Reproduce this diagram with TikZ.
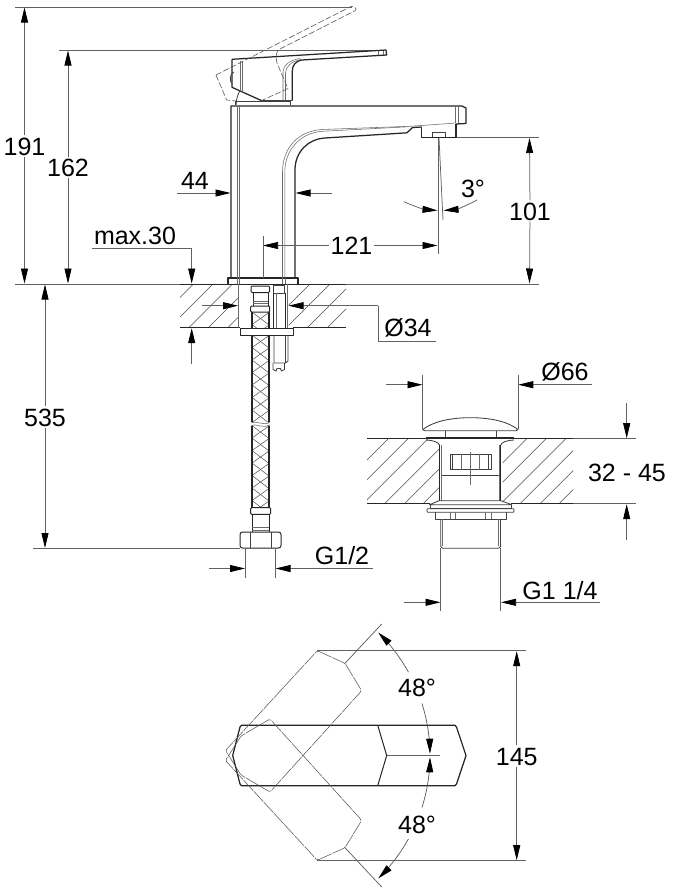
\documentclass[tikz,border=0pt]{standalone}
\usepackage{fontspec}
\setmainfont{Liberation Sans}
\usetikzlibrary{arrows.meta}
\definecolor{dimc}{gray}{0.38}
\definecolor{thinc}{gray}{0.42}
\tikzset{
  dimtext/.style={font=\fontsize{25}{25}\selectfont,text=black,text height=18pt,text depth=0pt,inner sep=1.5pt},
  dimline/.style={draw=dimc,line width=0.75pt},
  dimarrow/.style={dimline,-{Stealth[black,length=15pt,width=7pt,inset=0pt]}},
  solid body/.style={draw=black!85,line width=1.25pt,line join=round},
  med/.style={draw=black!75,line width=0.85pt,line join=round},
  thin gray/.style={draw=thinc,line width=0.55pt},
  ghost/.style={draw=black!65,line width=0.6pt,dash pattern=on 6pt off 2.2pt},
  hatchline/.style={draw=black!70,line width=0.55pt},
  braid/.style={draw=black!65,line width=0.55pt},
}
\newcommand{\hosebraid}[2]{%
  \begin{scope}
    \clip (252,#1) rectangle (269,#2);
    \foreach \k in {-1,...,16}{
      \draw[braid] (252,{#1+12.5*\k}) -- (269,{#1+13+12.5*\k});
      \draw[braid] (260.5,{#1+6.5+12.5*\k}) -- (252,{#1+12.5+12.5*\k});
      \draw[braid] (269,{#1+13+12.5*\k}) -- (260.5,{#1+19+12.5*\k});
    }
  \end{scope}
  \draw[solid body] (252,#1) -- (252,#2) (269,#1) -- (269,#2);
}
\begin{document}
\begin{tikzpicture}[x=1pt,y=-1pt]
\useasboundingbox (0,0) rectangle (672,894);
\fill[white] (0,0) rectangle (672,894);

%% --- reference lines
\draw[dimline] (15,7) -- (352,7);
\draw[dimline] (59,50) -- (382,50);
\draw[dimline] (15,284) -- (228,284);
\draw[dimline] (346,284) -- (539,284);
\draw[dimline] (456,137.5) -- (539,137.5);

%% --- lever, solid
\draw[solid body] (232,59.3) -- (386,50) -- (386.7,55) -- (301.7,60)
   .. controls (296,61) and (292.3,65) .. (292.3,71) -- (292.3,100.5);
\draw[solid body] (232,59.3) -- (232,87.3) -- (261.7,100.7);
\draw[med] (261.7,100.7) -- (292.3,100.7);
\draw[med] (234,72) .. controls (229.5,73) and (229.5,82) .. (232,83.5);
\draw[med] (236,105) .. controls (236.5,98) and (238,94) .. (240,90.5);
\draw[thin gray] (240,61) -- (240,90) (242.7,61) -- (242.7,92);
\draw[thin gray] (283,100.5) -- (283,72) .. controls (283,66) and (289,60) .. (300,58.5);
\draw[thin gray] (285.5,100.5) -- (285.5,73) .. controls (285.5,67) and (291,61.5) .. (301,59.5);
\draw[thin gray] (378,50.5) -- (378,54.5) (383,50.5) -- (383,54.5);
\draw[med] (235,105) -- (235,101.7) -- (290,101.7) -- (290,105);

%% --- lever, raised (dashed)
\draw[ghost] (216,75) -- (351,6.5) .. controls (355,6) and (357,9) .. (355.5,10.5)
   -- (278,50) .. controls (276,54) and (275.5,58) .. (277,63) -- (288,88.5) -- (261.7,100.5)
   (216,75) -- (226.7,100) -- (236,101);

%% --- body and spout
\draw[solid body] (231,278) -- (231,106) -- (462,106) -- (466,108) -- (466,123.5) -- (456,124);
\draw[solid body] (228,284) -- (228,278) -- (298,278) -- (298,284);
\draw[solid body] (295,278) -- (295,170) .. controls (295,152) and (308,139) .. (325,138)
   -- (407,132.8) -- (412.5,127.5) -- (421.5,127);
\draw[solid body] (421.7,127) -- (421.7,137.7) -- (456,137.7) -- (456,124);
\draw[med] (432,137) -- (432,132) -- (445,132) -- (445,137);
\draw[thin gray] (282.5,278) -- (282.5,172) .. controls (282.5,148) and (298,131) .. (322,129.5) -- (412,126.2) -- (456,123);
\draw[thin gray] (284.8,278) -- (284.8,172) .. controls (284.8,150) and (300,133) .. (322,131.3) -- (408,126.8);
\draw[thin gray] (237,106) -- (237,278) (239.5,106) -- (239.5,278);
\draw[thin gray] (455,106) -- (455,123) (458,106) -- (458,123);
\draw[thin gray] (237,278) -- (237,284) (239.5,278) -- (239.5,284) (282.5,278) -- (282.5,284) (284.8,278) -- (284.8,284);

%% --- counter top (faucet)
\begin{scope}
  \clip (180,284) rectangle (238,327.7);
  \foreach \c in {193.5,213,232.5,252,271.5}{\draw[hatchline] ({\c},284) -- ({\c-44},328);}
\end{scope}
\begin{scope}
  \clip (288.5,284) rectangle (346,327.7);
  \foreach \c in {310,330,351,371}{\draw[hatchline] ({\c},284) -- ({\c-44},328);}
\end{scope}
\draw[solid body,line width=1pt] (180,284) -- (228,284) (298,284) -- (346,284);
\draw[solid body,line width=1pt] (228,284) -- (298,284);
\draw[solid body,line width=1pt] (180,327.7) -- (240,327.7) (293,327.7) -- (346,327.7);
\draw[thin gray,line width=0.7pt] (238.3,284) -- (238.3,327.7) (287.5,284) -- (287.5,327.7);

%% --- hose and connector
\draw[solid body,line width=1pt,rounded corners=1pt] (251,286) rectangle (269.5,292.5);
\draw[solid body,line width=1pt] (253,292.5) -- (253,306) (268,292.5) -- (268,306);
\draw[thin gray] (253,301) -- (268,301) (253,303) -- (268,303);
\draw[solid body,line width=1pt,rounded corners=1pt] (250.7,306) rectangle (269.7,312);
\hosebraid{312}{328}
\draw[solid body,line width=1pt] (240,328) rectangle (293,335);
\hosebraid{335}{422}
\draw[thin gray] (251,423) .. controls (256,420) and (262,426) .. (270,422.5)
   (251,425.5) .. controls (256,423) and (262,429) .. (270,425);
\hosebraid{425.5}{507.7}
\draw[solid body,line width=1pt,rounded corners=1pt] (250.7,507.7) rectangle (270.7,514.3);
\draw[solid body,line width=1pt] (252,514.3) -- (252,532) (269,514.3) -- (269,532);
\draw[thin gray] (252,527.5) -- (269,527.5) (252,530) -- (269,530);
\draw[solid body,line width=1pt,rounded corners=2.5pt] (240,532) rectangle (281,548);
\draw[med] (250,532) -- (250,548) (271,532) -- (271,548);

%% --- stud
\draw[med] (273,293.3) -- (273,285) -- (284,285) -- (284,293.3) -- cycle;
\draw[solid body,line width=1pt] (273,293.3) -- (273,327.7) (285,293.3) -- (285,327.7);
\draw[thin gray] (276,293.3) -- (276,327.7);
\draw[solid body,line width=1pt] (269.3,335) -- (269.3,363);
\draw[med] (274,335) -- (274,363) -- (285.5,363) -- (285.5,335) (288,335) -- (288,361) -- (285.5,363);
\draw[med] (273,363) -- (273,369.5) -- (276,371) -- (277,368.5) -- (280.5,368.5) -- (281.5,371) -- (284.5,369.5) -- (284.5,363);

%% --- waste: counter
\begin{scope}
  \clip (367,438.7) rectangle (439,503.7);
  \foreach \c in {388.3,408,428,449.6,469.6,488}{\draw[hatchline] ({\c},438.7) -- ({\c-65},503.7);}
\end{scope}
\begin{scope}
  \clip (502.7,438.7) rectangle (573,503.7);
  \foreach \c in {526.7,546,565.7,585,605,624}{\draw[hatchline] ({\c},438.7) -- ({\c-65},503.7);}
\end{scope}
\draw[solid body,line width=1pt] (367,438.7) -- (426,438.7) (514,438.7) -- (573,438.7)
   (367,503.7) -- (430,503.7) (511,503.7) -- (573,503.7);
\draw[dimline] (573,438.7) -- (636,438.7) (573,503.7) -- (636,503.7);

%% --- waste: plug
\draw[med] (422.7,429.7) .. controls (435,420) and (455,417.7) .. (470.5,417.7)
   .. controls (486,417.7) and (506,420) .. (518,429.7) -- (516,430.7) -- (425,430.7) -- cycle;
\draw[med] (445,431) -- (445,437.5) (496,431) -- (496,437.5);
\draw[solid body,line width=1.6pt] (426,438) -- (514,438);
\draw[med] (426,440) .. controls (434,440.5) and (438,442) .. (439.5,445)
   (514,440) .. controls (506,440.5) and (502,442) .. (500.8,445);
\draw[solid body,line width=1pt] (439.5,445) -- (439.5,501) (500.8,445) -- (500.8,501);
\draw[thin gray] (441.5,445) -- (441.5,501) (499,445) -- (499,501);
\draw[med] (441.5,475) -- (499,475);
\draw[med] (450,454) rectangle (491,469.5);
\draw[med] (452.7,454) -- (452.7,469.5) (488,454) -- (488,469.5);
\draw[thin gray] (461.7,454) -- (461.7,469.5) (479,454) -- (479,469.5);
\draw[thin gray] (470.5,452) -- (470.5,485);
\draw[med] (439,500.7) -- (501,500.7) -- (511.7,504.7) -- (429.5,504.7) -- cycle;
\draw[med] (430,504.7) -- (430,508.7) -- (511.7,508.7) -- (511.7,504.7);
\draw[med,rounded corners=0.8pt] (427,508.7) rectangle (514,512.3);
\draw[med] (435.7,512.3) -- (435.7,519) -- (506,519) -- (506,512.3);
\draw[thin gray] (450,512.3) -- (450,519) (455.7,512.3) -- (455.7,519) (485,512.3) -- (485,519) (491,512.3) -- (491,519);
\draw[med] (440.7,519) -- (440.7,546.5) -- (442.5,548.3) -- (498.5,548.3) -- (500.5,546.5) -- (500.5,519);
\draw[thin gray] (442.5,519) -- (442.5,546) (498.7,519) -- (498.7,546);

%% --- top view
\draw[solid body] (232.7,755.5) -- (240,727) -- (241.5,725.3) -- (455,725.3) -- (456.5,727) -- (466,755.5)
   -- (456.5,784) -- (455,785.7) -- (241.5,785.7) -- (240,784) -- cycle;
\draw[solid body,line width=1pt] (377.7,725.3) -- (386.7,755.5) -- (377.7,785.7);
\draw[ghost,line width=0.55pt,dash pattern=on 14pt off 1pt,rounded corners=1.5pt]
  (317.3,650.7) -- (345,663.3) -- (361.7,690.7) -- (270,792) -- (241,775) -- (225.5,750.5) -- cycle;
\draw[ghost,line width=0.55pt,dash pattern=on 14pt off 1pt,rounded corners=1.5pt]
  (317.3,860.3) -- (345,847.7) -- (361.7,820.3) -- (270,719) -- (241,736) -- (225.5,760.5) -- cycle;

%% --- dimensions: 191, 162, 535
\node[dimtext] (d191) at (24.5,146) {191};
\coordinate (d191a) at (24.5,7.5); \coordinate (d191b) at (24.5,283.5);
\draw[dimarrow] (d191) -- (d191a); \draw[dimarrow] (d191) -- (d191b);
\node[dimtext] (d162) at (68,167.5) {162};
\coordinate (d162a) at (68,50.5); \coordinate (d162b) at (68,283.5);
\draw[dimarrow] (d162) -- (d162a); \draw[dimarrow] (d162) -- (d162b);
\node[dimtext] (d535) at (45,417) {535};
\coordinate (d535a) at (45,284.5); \coordinate (d535b) at (45,548);
\draw[dimarrow] (d535) -- (d535a); \draw[dimarrow] (d535) -- (d535b);
\draw[dimline] (33,548) -- (240,548);

%% --- 44
\node[dimtext] (d44) at (195,180) {44};
\coordinate (d44a) at (177,193); \coordinate (d44b) at (230.5,193);
\coordinate (d44c) at (331.5,193); \coordinate (d44d) at (295.5,193);
\draw[dimarrow] (d44a) -- (d44b); \draw[dimarrow] (d44c) -- (d44d);

%% --- max.30
\node[dimtext] (dmax) at (135,235) {max.30};
\coordinate (dmaxa) at (92,248); \coordinate (dmaxb) at (191.7,248); \coordinate (dmaxc) at (191.7,283.5);
\draw[dimline] (dmaxa) -- (dmaxb);
\draw[dimarrow] (dmaxb) -- (dmaxc);
\coordinate (dmaxd) at (191.7,364); \coordinate (dmaxe) at (191.7,328.2);
\draw[dimarrow] (dmaxd) -- (dmaxe);

%% --- 121
\node[dimtext] (d121) at (351.5,245.5) {121};
\coordinate (d121a) at (263,245.5); \coordinate (d121b) at (437.5,245.5);
\draw[dimarrow] (d121) -- (d121a); \draw[dimarrow] (d121) -- (d121b);
\draw[dimline] (263,236) -- (263,278);
\draw[dimline] (438.7,138) -- (438.7,254);
\draw[dimline] (439,138) -- (443,220);

%% --- 3 deg
\node[dimtext] (d3) at (473,188) {3°};
\coordinate (d3a) at (404,201.7); \coordinate (d3b) at (437.5,210.5);
\coordinate (d3c) at (477,200); \coordinate (d3d) at (443.5,210.5);
\draw[dimarrow] (d3a) .. controls (413,206) and (425,209.5) .. (d3b);
\draw[dimarrow] (d3c) .. controls (468,205) and (456,209.5) .. (d3d);

%% --- 101
\node[dimtext] (d101) at (530,211) {101};
\coordinate (d101a) at (529.5,138); \coordinate (d101b) at (529.5,283.5);
\draw[dimarrow] (d101) -- (d101a); \draw[dimarrow] (d101) -- (d101b);

%% --- O34
\node[dimtext] (d34) at (408,327.5) {Ø34};
\coordinate (d34a) at (202,305.7); \coordinate (d34b) at (238,305.7);
\coordinate (d34c) at (378,305.7); \coordinate (d34d) at (288.5,305.7);
\draw[dimarrow] (d34a) -- (d34b);
\draw[dimarrow] (d34c) -- (d34d);
\draw[dimline] (d34c) -- (378,341) -- (436,341);

%% --- G1/2
\node[dimtext] (dg12) at (342,555.5) {G1/2};
\coordinate (dg12a) at (209,568.5); \coordinate (dg12b) at (245,568.5);
\coordinate (dg12c) at (373,568.5); \coordinate (dg12d) at (275.5,568.5);
\draw[dimarrow] (dg12a) -- (dg12b); \draw[dimarrow] (dg12c) -- (dg12d);
\draw[dimline] (245,548) -- (245,577.5) (275.5,548) -- (275.5,577.5);

%% --- O66
\node[dimtext] (d66) at (565,371) {Ø66};
\coordinate (d66a) at (386,384.7); \coordinate (d66b) at (422.5,384.7);
\coordinate (d66c) at (592,384.7); \coordinate (d66d) at (518.3,384.7);
\draw[dimarrow] (d66a) -- (d66b); \draw[dimarrow] (d66c) -- (d66d);
\draw[dimline] (422.7,375) -- (422.7,429) (518,375) -- (518,429);

%% --- 32 - 45
\node[dimtext] (d3245) at (627,472) {32 - 45};
\coordinate (d32a) at (626.7,403); \coordinate (d32b) at (626.7,438.2);
\coordinate (d32c) at (626.7,540); \coordinate (d32d) at (626.7,504.2);
\draw[dimarrow] (d32a) -- (d32b); \draw[dimarrow] (d32c) -- (d32d);

%% --- G1 1/4
\node[dimtext] (dg114) at (560,590) {G1 1/4};
\coordinate (dg1a) at (404,602.3); \coordinate (dg1b) at (440.5,602.3);
\coordinate (dg1c) at (600,602.3); \coordinate (dg1d) at (501,602.3);
\draw[dimarrow] (dg1a) -- (dg1b); \draw[dimarrow] (dg1c) -- (dg1d);
\draw[dimline] (440.7,548) -- (440.7,611) (500.5,548) -- (500.5,611);

%% --- 145
\node[dimtext] (d145) at (516.7,756) {145};
\coordinate (d145a) at (516.7,651.2); \coordinate (d145b) at (516.7,860.2);
\draw[dimarrow] (d145) -- (d145a); \draw[dimarrow] (d145) -- (d145b);
\draw[dimline] (317.3,650.7) -- (526,650.7) (317.3,860.7) -- (526,860.7);

%% --- 48 deg
\node[dimtext] (d48a) at (417,687) {48°};
\node[dimtext] (d48b) at (417,824) {48°};
\draw[dimline] (386.7,755.5) -- (440,755.5);
\draw[dimline] (345,663.3) -- (381.7,624) (345,847.7) -- (381.7,887);
\draw[dimarrow] plot[domain=17.6:0.6,samples=20] ({258+172*cos(\x)},{755.5-172*sin(\x)});
\draw[dimarrow] plot[domain=29:45.6,samples=20] ({258+172*cos(\x)},{755.5-172*sin(\x)});
\draw[dimarrow] plot[domain=17.6:0.6,samples=20] ({258+172*cos(\x)},{755.5+172*sin(\x)});
\draw[dimarrow] plot[domain=29:45.6,samples=20] ({258+172*cos(\x)},{755.5+172*sin(\x)});
\end{tikzpicture}
\end{document}
